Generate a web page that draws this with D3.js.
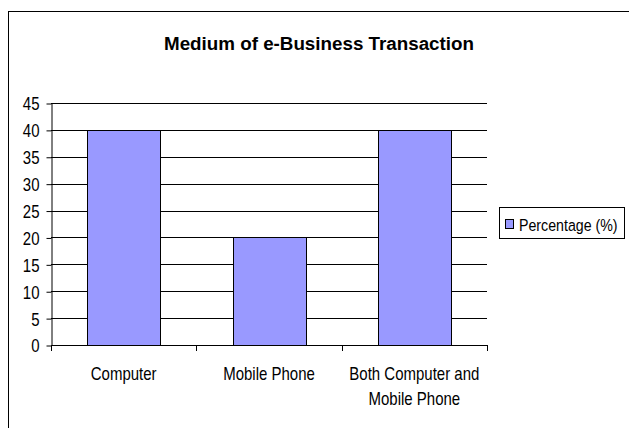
<!DOCTYPE html>
<html>
<head>
<meta charset="utf-8">
<script src="https://cdn.jsdelivr.net/npm/d3@7"></script>
<style>
  body { margin: 0; background: #fff; }
  text { font-family: "Liberation Sans", Arial, sans-serif; fill: #000; }
</style>
</head>
<body>
<svg id="chart" width="629" height="428"></svg>
<script>
// chart data
const categories = ['Computer', 'Mobile Phone', 'Both Computer and Mobile Phone'];
const percentages = [40, 20, 40];
const yTicks = [0, 5, 10, 15, 20, 25, 30, 35, 40, 45];
const seriesName = 'Percentage (%)';
const chartTitle = 'Medium of e-Business Transaction';

// wrapped category labels (Excel splits the long one on two lines)
const categoryLines = {
    'Computer': ['Computer'],
    'Mobile Phone': ['Mobile Phone'],
    'Both Computer and Mobile Phone': ['Both Computer and', 'Mobile Phone']
};

const svg = d3.select('#chart');
const barColor = '#9999ff';

// outer chart border (runs off the right and bottom of the picture)
svg.append('rect')
    .attr('x', 8.5)
    .attr('y', 11.5)
    .attr('width', 700)
    .attr('height', 500)
    .attr('fill', 'none')
    .attr('stroke', '#000')
    .attr('stroke-width', 1);

// title
svg.append('text')
    .attr('x', 319)
    .attr('y', 50)
    .attr('text-anchor', 'middle')
    .style('font-size', '18.8px')
    .style('font-weight', 'bold')
    .text(chartTitle);

// plot area
const plot = { left: 51, right: 487, top: 103, bottom: 345 };

const x = d3.scaleBand()
    .domain(categories)
    .range([plot.left, plot.right])
    .paddingInner(0.5)
    .paddingOuter(0.25);

const y = d3.scaleLinear()
    .domain([0, 45])
    .range([plot.bottom, plot.top]);

// gridlines
svg.append('g')
    .selectAll('line')
    .data(yTicks.filter(d => d > 0))
    .join('line')
    .attr('x1', plot.left)
    .attr('x2', plot.right)
    .attr('y1', d => Math.round(y(d)) + 0.5)
    .attr('y2', d => Math.round(y(d)) + 0.5)
    .attr('stroke', '#000')
    .attr('stroke-width', 1);

// bars
svg.append('g')
    .selectAll('rect')
    .data(categories)
    .join('rect')
    .attr('x', d => Math.round(x(d)) + 0.5)
    .attr('y', (d, i) => Math.round(y(percentages[i])) + 0.5)
    .attr('width', Math.round(x.bandwidth()))
    .attr('height', (d, i) => Math.round(y(0)) - Math.round(y(percentages[i])))
    .attr('fill', barColor)
    .attr('stroke', '#000')
    .attr('stroke-width', 1);

// y axis
const yAxis = svg.append('g')
    .attr('transform', `translate(${plot.left + 0.5},0.5)`)
    .call(d3.axisLeft(y).tickValues(yTicks).tickSize(5).tickPadding(7).tickSizeOuter(0));
yAxis.select('.domain').attr('stroke', '#000');
yAxis.selectAll('.tick line').attr('stroke', '#000');
yAxis.selectAll('.tick text')
    .attr('font-family', null)
    .style('font-size', '15px')
    .attr('dy', null)
    .attr('dominant-baseline', 'central')
    .attr('transform', 'scale(1,1.18)')
    .attr('y', 0);

// x axis with ticks at category boundaries
const boundary = d3.scaleLinear().domain([0, categories.length]).range([plot.left, plot.right]);
const xAxisG = svg.append('g');
xAxisG.append('line')
    .attr('x1', plot.left)
    .attr('x2', plot.right + 0.5)
    .attr('y1', plot.bottom + 0.5)
    .attr('y2', plot.bottom + 0.5)
    .attr('stroke', '#000');
xAxisG.selectAll('line.tick')
    .data(d3.range(categories.length + 1))
    .join('line')
    .attr('class', 'tick')
    .attr('x1', d => Math.round(boundary(d)) + 0.5)
    .attr('x2', d => Math.round(boundary(d)) + 0.5)
    .attr('y1', plot.bottom)
    .attr('y2', plot.bottom + 6)
    .attr('stroke', '#000');

// category labels
categories.forEach(c => {
    const cx = x(c) + x.bandwidth() / 2;
    categoryLines[c].forEach((line, j) => {
        const base = 380 + j * 25;
        svg.append('text')
            .attr('text-anchor', 'middle')
            .attr('transform', `translate(${cx},${base}) scale(1,1.18)`)
            .style('font-size', '15px')
            .text(line);
    });
});

// legend
const legend = svg.append('g');
legend.append('rect')
    .attr('x', 499.5)
    .attr('y', 207.5)
    .attr('width', 125)
    .attr('height', 31)
    .attr('fill', '#fff')
    .attr('stroke', '#000');
legend.append('rect')
    .attr('x', 505.5)
    .attr('y', 219.5)
    .attr('width', 8)
    .attr('height', 9)
    .attr('fill', barColor)
    .attr('stroke', '#000');
legend.append('text')
    .attr('transform', 'translate(519,231) scale(1,1.18)')
    .style('font-size', '14.2px')
    .text(seriesName);
</script>
</body>
</html>
